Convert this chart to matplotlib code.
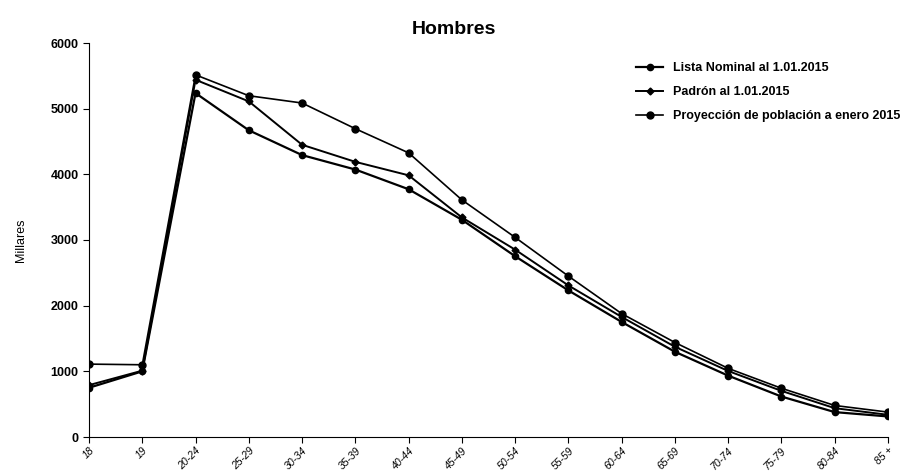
import matplotlib.pyplot as plt

# age groups on the x axis
edades = ["18", "19", "20-24", "25-29", "30-34", "35-39", "40-44", "45-49",
          "50-54", "55-59", "60-64", "65-69", "70-74", "75-79", "80-84", "85 +"]

# values in thousands (millares)
lista_nominal = [750, 1000, 5237, 4671, 4293, 4073, 3773, 3308,
                 2753, 2232, 1752, 1298, 934, 616, 379, 313]
padron = [790, 1010, 5440, 5111, 4450, 4190, 3985, 3344,
          2853, 2308, 1828, 1374, 1005, 702, 439, 338]
proyeccion = [1110, 1100, 5515, 5197, 5086, 4695, 4327, 3611,
              3040, 2450, 1879, 1439, 1045, 742, 480, 379]

etiquetas = ["Lista Nominal al 1.01.2015",
             "Padrón al 1.01.2015",
             "Proyección de población a enero 2015"]

plt.rcParams["font.family"] = ["Liberation Sans Narrow", "Liberation Sans", "DejaVu Sans"]

fig = plt.figure(figsize=(9.08, 4.74), dpi=100)
ax = fig.add_axes([89 / 908, 1 - 437 / 474, (888 - 89) / 908, (437 - 43) / 474])

x = list(range(len(edades)))
ax.plot(x, lista_nominal, color="black", lw=1.6, marker="o", ms=4.5, label=etiquetas[0])
ax.plot(x, padron, color="black", lw=1.4, marker="D", ms=3.5, label=etiquetas[1])
ax.plot(x, proyeccion, color="black", lw=1.2, marker="o", ms=5, label=etiquetas[2])

ax.set_xlim(0, len(edades) - 1)
ax.set_ylim(0, 6000)
ax.set_yticks([0, 1000, 2000, 3000, 4000, 5000, 6000])
ax.set_xticks(x)
ax.set_xticklabels(edades, rotation=45, ha="right", rotation_mode="anchor",
                   fontsize=7.5, fontstyle="italic")
ax.tick_params(axis="y", labelsize=9, length=4, direction="out")
ax.tick_params(axis="x", length=4, direction="out", pad=2)
for lbl in ax.get_yticklabels():
    lbl.set_fontweight("bold")

ax.spines["top"].set_visible(False)
ax.spines["right"].set_visible(False)

ax.set_ylabel("Millares", fontsize=9)
ax.yaxis.set_label_coords(-0.078, 0.5)
fig.text(0.5, 0.937, "Hombres", ha="center", va="center", fontsize=14, fontweight="bold")

ax.legend(loc="upper right", bbox_to_anchor=(1.03, 0.98), frameon=False,
          handlelength=2.2, labelspacing=0.95,
          prop={"weight": "bold", "size": 9})

fig.savefig("out.png", dpi=100)
